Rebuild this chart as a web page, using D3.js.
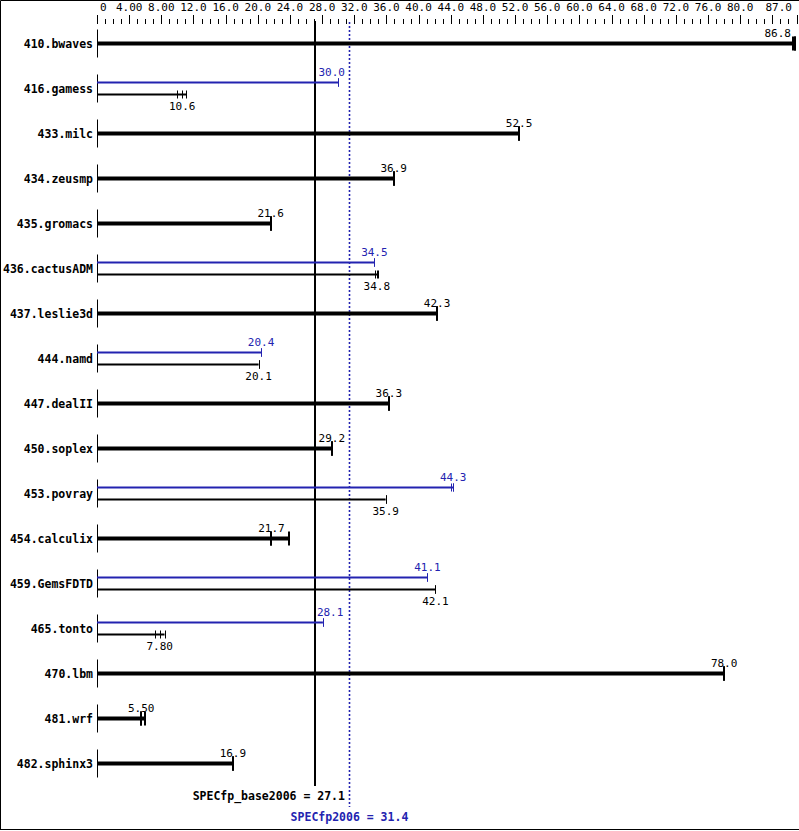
<!DOCTYPE html>
<html><head><meta charset="utf-8">
<script src="https://cdn.jsdelivr.net/npm/d3@7"></script>
<style>body{margin:0;background:#fff}svg{display:block}</style>
</head><body>
<script>
const categories = ["410.bwaves","416.gamess","433.milc","434.zeusmp","435.gromacs","436.cactusADM","437.leslie3d","444.namd","447.dealII","450.soplex","453.povray","454.calculix","459.GemsFDTD","465.tonto","470.lbm","481.wrf","482.sphinx3"];
const baseValues = [86.8,10.6,52.5,36.9,21.6,34.8,42.3,20.1,36.3,29.2,35.9,21.7,42.1,7.80,78.0,5.50,16.9];
const peakValues = [null,30.0,null,null,null,34.5,null,20.4,null,null,44.3,null,41.1,28.1,null,null,null];
const baseRuns = [[86.6,86.8,86.8],[9.9,10.6,11.1],[52.5,52.5,52.5],[36.9,36.9,36.9],[21.6,21.6,21.6],[34.6,34.8,34.9],[42.3,42.3,42.3],[20.1,20.1,20.1],[36.3,36.3,36.3],[29.2,29.2,29.2],[35.9,35.9,35.9],[21.7,21.7,23.9],[42.1,42.1,42.1],[7.2,7.8,8.4],[78.0,78.0,78.0],[5.50,5.50,5.97],[16.9,16.9,16.9]];
const peakRuns = [null,[30.0,30.0,30.0],null,null,null,[34.4,34.5,34.5],null,[20.4,20.4,20.4],null,null,[44.0,44.3,44.3],null,[41.1,41.1,41.1],[28.1,28.1,28.1],null,null,null];
const tickValues = [0,4,8,12,16,20,24,28,32,36,40,44,48,52,56,60,64,68,72,76,80,84,87];
const tickLabels = ["0","4.00","8.00","12.0","16.0","20.0","24.0","28.0","32.0","36.0","40.0","44.0","48.0","52.0","56.0","60.0","64.0","68.0","72.0","76.0","80.0","","87.0"];
const baseScore = 27.1, peakScore = 31.4;
const baseName = "SPECfp_base2006", peakName = "SPECfp2006";

const W = 799, H = 831;
const BLUE = "#2323b0";
const MONO = "'DejaVu Sans Mono', 'Liberation Mono', monospace";
const fmt = d3.format(".3r");

const svg = d3.select("body").append("svg").attr("width", W).attr("height", H);
svg.append("rect").attr("width", W).attr("height", H).attr("fill", "#fff");

const x = d3.scaleLinear().domain([0, 87]).range([97, 796.5]);
const y = d3.scalePoint().domain(categories).range([43.5, 763.5]).padding(0);

// border (left, top, bottom)
svg.append("path").attr("d", `M0.5,${H-1.5} L0.5,0.5 L${W},0.5 M0,${H-1.5} L${W},${H-1.5}`)
  .attr("stroke", "#000").attr("fill", "none").attr("stroke-width", 1);

// axis ticks
const g = svg.append("g");
g.selectAll("line.minor").data(d3.range(0, 88)).join("line")
  .attr("x1", d => Math.round(x(d)) + 0.5).attr("x2", d => Math.round(x(d)) + 0.5)
  .attr("y1", 19).attr("y2", 24).attr("stroke", "#000").attr("stroke-width", 1);
g.selectAll("line.major").data(tickValues).join("line")
  .attr("x1", d => Math.round(x(d)) + 0.5).attr("x2", d => Math.round(x(d)) + 0.5)
  .attr("y1", 15).attr("y2", 24).attr("stroke", "#000").attr("stroke-width", 1);

function clampText(sel, cx, minL, maxR) {
  const node = sel.node();
  const w = node.getComputedTextLength();
  let left = cx - w / 2;
  if (left < minL) left = minL;
  if (left + w > maxR) left = maxR - w;
  sel.attr("text-anchor", "start").attr("x", left);
  return {left, w};
}

tickValues.forEach((v, i) => {
  if (!tickLabels[i]) return;
  const t = g.append("text").text(tickLabels[i]).attr("y", 11)
    .attr("font-family", MONO).attr("font-size", "11px").attr("fill", "#000");
  clampText(t, x(v), 100, 792);
});

const baseX = x(baseScore), peakX = x(peakScore);
// reference lines
svg.append("line").attr("x1", Math.round(baseX)).attr("x2", Math.round(baseX))
  .attr("y1", 21).attr("y2", 786).attr("stroke", "#000").attr("stroke-width", 2);
svg.append("line").attr("x1", Math.round(peakX) + 0.5).attr("x2", Math.round(peakX) + 0.5)
  .attr("y1", 22).attr("y2", 807).attr("stroke", BLUE).attr("stroke-width", 1.6)
  .attr("stroke-dasharray", "2,2");

// label placement avoiding the reference lines
function placeLabel(sel, cx, lines) {
  const r = clampText(sel, cx, 100, 791);
  let left = r.left; const w = r.w;
  (lines || [baseX, peakX]).forEach(lx => {
    if (lx > left - 1 && lx < left + w + 1) {
      if (lx < cx) left = lx + 2; else left = lx - 4.5 - w;
    }
  });
  sel.attr("x", left);
}

const rows = svg.append("g");
categories.forEach((c, i) => {
  const cy = y(c);
  rows.append("text").text(c).attr("x", 93).attr("y", cy + 4)
    .attr("text-anchor", "end").attr("font-family", MONO).attr("font-weight", "bold")
    .attr("font-size", "11.5px").attr("fill", "#000");
  rows.append("line").attr("x1", x(0) + 0.5).attr("x2", x(0) + 0.5)
    .attr("y1", cy - 14).attr("y2", cy + 14).attr("stroke", "#000").attr("stroke-width", 1);

  const single = peakValues[i] == null;
  const drawBar = (runs, yy, color, thick) => {
    const mx = d3.max(runs);
    rows.append("line").attr("x1", x(0)).attr("x2", x(mx))
      .attr("y1", yy).attr("y2", yy).attr("stroke", color).attr("stroke-width", thick ? 4 : 2);
    runs.forEach(v => {
      const xx = Math.round(x(v));
      rows.append("line").attr("x1", thick ? xx : xx + 0.5).attr("x2", thick ? xx : xx + 0.5)
        .attr("y1", yy - (thick ? 7 : 4)).attr("y2", yy + (thick ? 7 : 4))
        .attr("stroke", color).attr("stroke-width", thick ? 2 : 1);
    });
  };
  if (single) {
    drawBar(baseRuns[i], cy, "#000", true);
    const t = rows.append("text").text(fmt(baseValues[i])).attr("y", cy - 7)
      .attr("font-family", MONO).attr("font-size", "11px").attr("fill", "#000");
    placeLabel(t, x(baseValues[i]));
  } else {
    drawBar(peakRuns[i], cy - 6, BLUE, false);
    drawBar(baseRuns[i], cy + 6, "#000", false);
    const tp = rows.append("text").text(fmt(peakValues[i])).attr("y", cy - 12.5)
      .attr("font-family", MONO).attr("font-size", "11px").attr("fill", BLUE);
    placeLabel(tp, x(peakValues[i]));
    const tb = rows.append("text").text(fmt(baseValues[i])).attr("y", cy + 21.5)
      .attr("font-family", MONO).attr("font-size", "11px").attr("fill", "#000");
    placeLabel(tb, x(baseValues[i]));
  }
});

// summary labels
const bt = svg.append("text").text(`${baseName} = ${fmt(baseScore)}`).attr("y", 799.5)
  .attr("font-family", MONO).attr("font-weight", "bold").attr("font-size", "11.5px").attr("fill", "#000");
placeLabel(bt, baseX, [peakX]);
const pt = svg.append("text").text(`${peakName} = ${fmt(peakScore)}`).attr("y", 821)
  .attr("font-family", MONO).attr("font-weight", "bold").attr("font-size", "11.5px").attr("fill", BLUE);
clampText(pt, peakX, 100, 791);
</script>
</body></html>
